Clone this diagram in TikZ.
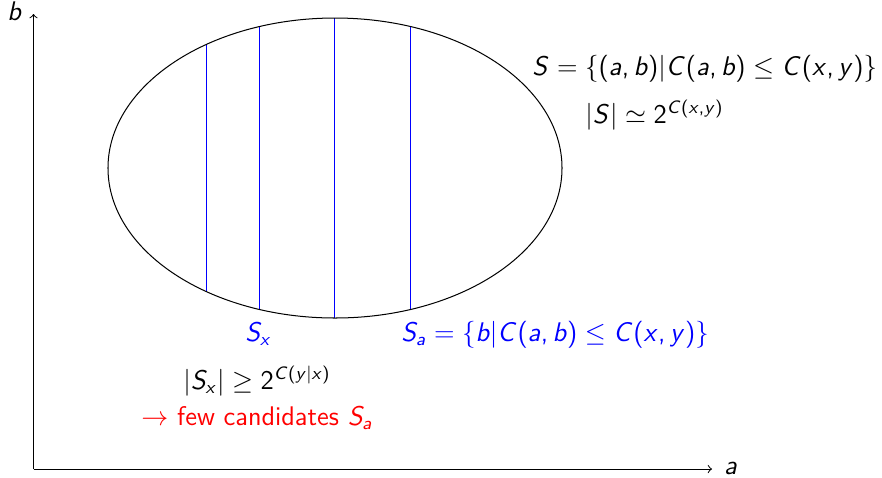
\documentclass[tikz,border=0pt]{standalone}
\SetSymbolFont{operators}{normal}{OT1}{cmss}{m}{n}
\SetSymbolFont{letters}{normal}{OT1}{cmss}{m}{it}
\mathcode`,="602C
\definecolor{chordblue}{RGB}{0,0,255}
\tikzset{
  lbl/.style={inner sep=0pt, font=\fontsize{12}{14}\selectfont\sffamily, anchor=base west},
  axis/.style={->, line width=0.45pt},
  chord/.style={draw=chordblue, line width=0.45pt},
}
\begin{document}
\begin{tikzpicture}[x=0.445pt, y=-0.445pt]
\useasboundingbox (0,0) rectangle (882,477);
\coordinate (O) at (33.5,469);
\coordinate (ytip) at (33.5,14);
\coordinate (xtip) at (712,469);
\draw[axis] (O) -- (ytip);
\draw[axis] (O) -- (xtip);
\node[lbl] (bl) at (7,20) {$b$};
\node[lbl] (al) at (724,474) {$a$};
\coordinate (E) at (335,168);
\coordinate (c1t) at (206.5,44.35);  \coordinate (c1b) at (206.5,291.65);
\coordinate (c2t) at (259.5,26.54);  \coordinate (c2b) at (259.5,309.46);
\coordinate (c3t) at (334.5,18.0);   \coordinate (c3b) at (334.5,318.0);
\coordinate (c4t) at (410.5,26.54);  \coordinate (c4b) at (410.5,309.46);
\draw[chord] (c1t) -- (c1b);
\draw[chord] (c2t) -- (c2b);
\draw[chord] (c3t) -- (c3b);
\draw[chord] (c4t) -- (c4b);
\draw[line width=0.45pt] (E) ellipse [x radius=101.02pt, y radius=66.75pt];
\node[lbl] (S) at (532,75) {$S=\{(a,b)|C(a,b)\le C(x,y)\}$};
\node[lbl] (Ssize) at (585,123) {$|S|\simeq 2^{C(x,y)}$};
\node[lbl, text=blue] (Sx) at (245,341) {$S_x$};
\node[lbl, text=blue] (Sa) at (401,341) {$S_a=\{b|C(a,b)\le C(x,y)\}$};
\node[lbl] (Sxsize) at (183,389) {$|S_x|\ge 2^{C(y|x)}$};
\node[lbl, text=red] (few) at (141,425) {$\rightarrow$ few candidates $S_a$};
\end{tikzpicture}
\end{document}
